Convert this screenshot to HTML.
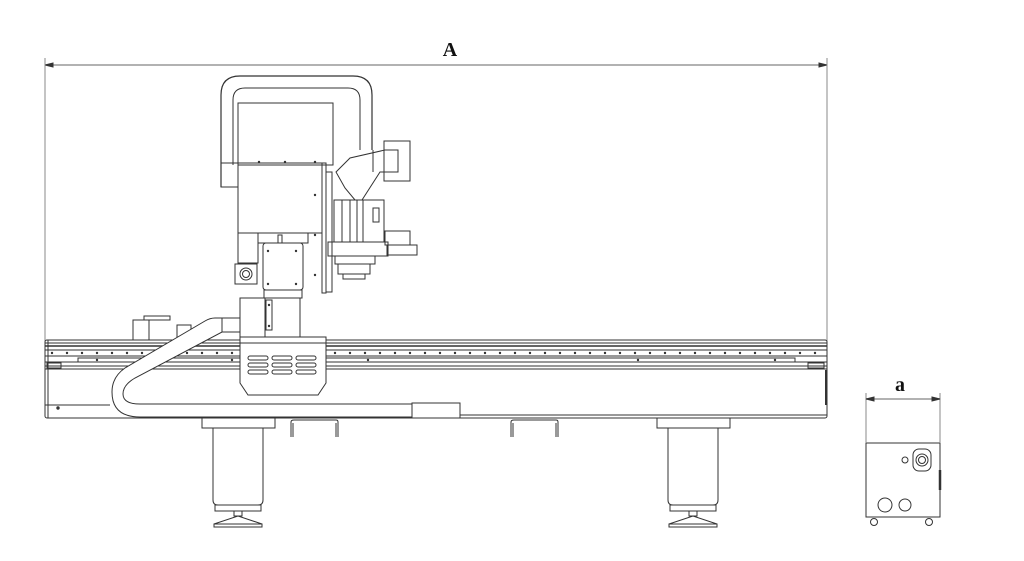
<!DOCTYPE html>
<html><head><meta charset="utf-8"><style>
html,body{margin:0;padding:0;background:#fff;}
svg{display:block;}
text{font-family:"Liberation Serif",serif;font-weight:bold;}
</style></head><body>
<svg width="1024" height="561" viewBox="0 0 1024 561" xmlns="http://www.w3.org/2000/svg">
<g fill="none" stroke="#333" stroke-width="1">
<line x1="45" y1="65" x2="827" y2="65" stroke="#999" stroke-width="1.5"/>
<path d="M45 65 l8 -2 v4 z M827 65 l-8 -2 v4 z" fill="#333"/>
<line x1="45" y1="58" x2="45" y2="345" stroke="#888"/>
<line x1="827" y1="58" x2="827" y2="345" stroke="#888"/>

<rect x="45" y="340" width="782" height="78" rx="2"/>
<line x1="45" y1="343" x2="827" y2="343"/>
<line x1="45" y1="346" x2="827" y2="346" stroke-width="1.5"/>
<line x1="45" y1="350" x2="827" y2="350"/>
<line x1="45" y1="356" x2="827" y2="356"/>
<line x1="45" y1="362" x2="827" y2="362"/>
<line x1="45" y1="366" x2="827" y2="366"/>
<line x1="45" y1="369" x2="827" y2="369"/>
<rect x="78" y="358" width="717" height="4"/>
<line x1="45" y1="405" x2="110" y2="405"/>
<line x1="460" y1="415" x2="827" y2="415"/>
<line x1="48" y1="340" x2="48" y2="418"/>
<rect x="47" y="363" width="14" height="5"/>
<rect x="808" y="363" width="16" height="5"/>
<line x1="826" y1="370" x2="826" y2="405" stroke-width="2"/>
<circle cx="58" cy="408" r="1.2" fill="#333"/>
<g fill="#333" stroke="none">
<circle cx="52" cy="353" r="1.2"/><circle cx="67" cy="353" r="1.2"/><circle cx="82" cy="353" r="1.2"/><circle cx="97" cy="353" r="1.2"/><circle cx="112" cy="353" r="1.2"/><circle cx="127" cy="353" r="1.2"/><circle cx="142" cy="353" r="1.2"/><circle cx="157" cy="353" r="1.2"/><circle cx="172" cy="353" r="1.2"/><circle cx="187" cy="353" r="1.2"/><circle cx="202" cy="353" r="1.2"/><circle cx="217" cy="353" r="1.2"/><circle cx="232" cy="353" r="1.2"/>
<circle cx="335" cy="353" r="1.2"/><circle cx="350" cy="353" r="1.2"/><circle cx="365" cy="353" r="1.2"/><circle cx="380" cy="353" r="1.2"/><circle cx="395" cy="353" r="1.2"/><circle cx="410" cy="353" r="1.2"/><circle cx="425" cy="353" r="1.2"/><circle cx="440" cy="353" r="1.2"/><circle cx="455" cy="353" r="1.2"/><circle cx="470" cy="353" r="1.2"/><circle cx="485" cy="353" r="1.2"/><circle cx="500" cy="353" r="1.2"/><circle cx="515" cy="353" r="1.2"/><circle cx="530" cy="353" r="1.2"/><circle cx="545" cy="353" r="1.2"/><circle cx="560" cy="353" r="1.2"/><circle cx="575" cy="353" r="1.2"/><circle cx="590" cy="353" r="1.2"/><circle cx="605" cy="353" r="1.2"/><circle cx="620" cy="353" r="1.2"/><circle cx="635" cy="353" r="1.2"/><circle cx="650" cy="353" r="1.2"/><circle cx="665" cy="353" r="1.2"/><circle cx="680" cy="353" r="1.2"/><circle cx="695" cy="353" r="1.2"/><circle cx="710" cy="353" r="1.2"/><circle cx="725" cy="353" r="1.2"/><circle cx="740" cy="353" r="1.2"/><circle cx="755" cy="353" r="1.2"/><circle cx="770" cy="353" r="1.2"/><circle cx="785" cy="353" r="1.2"/><circle cx="800" cy="353" r="1.2"/><circle cx="815" cy="353" r="1.2"/>
<circle cx="97" cy="360" r="1.2"/><circle cx="232" cy="360" r="1.2"/><circle cx="368" cy="360" r="1.2"/><circle cx="638" cy="360" r="1.2"/><circle cx="775" cy="360" r="1.2"/>
</g>

<rect x="133" y="320" width="16" height="20"/>
<rect x="144" y="316" width="26" height="4"/>
<rect x="177" y="325" width="14" height="15"/>

<!-- cable chain as closed tube -->
<path d="M240 318 L215 318 Q210 318 205 321 L125 368 Q112 377 112 392 Q112 417 140 417 L412 417 L412 404 L140 404 Q123 404 123 394 Q123 385 135 378 L222 332 L240 332 Z" fill="#fff"/>
<line x1="222" y1="318" x2="222" y2="332"/>
<rect x="412" y="403" width="48" height="15" fill="#fff"/>

<g>
<rect x="202" y="418" width="73" height="10"/>
<path d="M213 428 V500 Q213 505 218 505 H258 Q263 505 263 500 V428"/>
<rect x="215" y="505" width="46" height="6"/>
<rect x="234" y="511" width="8" height="5"/>
<path d="M214 524 L238 516 L262 524 Z"/>
<rect x="214" y="524" width="48" height="3"/>
</g>
<g>
<rect x="657" y="418" width="73" height="10"/>
<path d="M668 428 V500 Q668 505 673 505 H713 Q718 505 718 500 V428"/>
<rect x="670" y="505" width="46" height="6"/>
<rect x="689" y="511" width="8" height="5"/>
<path d="M669 524 L693 516 L717 524 Z"/>
<rect x="669" y="524" width="48" height="3"/>
</g>
<path d="M291 437 V422 Q291 420 294 420 H336 Q338 420 338 422 V437"/>
<path d="M293 437 V423 M336 423 V437"/>
<path d="M511 437 V422 Q511 420 514 420 H556 Q558 420 558 422 V437"/>
<path d="M513 437 V423 M556 423 V437"/>

<path d="M221 187 V95 Q221 76 240 76 H353 Q372 76 372 95 V150" stroke-width="1.2"/>
<path d="M233 165 V100 Q233 88 245 88 H348 Q360 88 360 100 V150"/>
<rect x="238" y="103" width="95" height="62"/>
<rect x="221" y="163" width="17" height="24"/>
<rect x="238" y="163" width="84" height="70"/>
<rect x="322" y="163" width="4" height="130"/>
<rect x="326" y="172" width="6" height="120"/>
<rect x="238" y="233" width="20" height="30"/>
<rect x="258" y="233" width="50" height="10"/>
<path d="M336 172 L350 158 L385 150 H398 V172 H380 L362 200 L355 200 L345 188 Z" fill="#fff"/>
<path d="M373 150 V172"/>
<rect x="384" y="141" width="26" height="40"/>
<rect x="334" y="200" width="50" height="42"/>
<line x1="342" y1="200" x2="342" y2="242"/>
<line x1="350" y1="200" x2="350" y2="242"/>
<line x1="357" y1="200" x2="357" y2="242"/>
<line x1="363" y1="200" x2="363" y2="242"/>
<rect x="373" y="208" width="6" height="14"/>
<rect x="385" y="231" width="25" height="14"/>
<rect x="387" y="245" width="30" height="10"/>
<rect x="328" y="242" width="60" height="14"/>
<rect x="335" y="256" width="40" height="8"/>
<rect x="338" y="264" width="32" height="10"/>
<rect x="343" y="274" width="22" height="5"/>
<rect x="263" y="243" width="40" height="47" rx="3"/>
<rect x="278" y="235" width="4" height="8"/>
<rect x="235" y="264" width="22" height="20"/>
<circle cx="246" cy="274" r="6"/>
<circle cx="246" cy="274" r="3.5"/>
<rect x="240" y="298" width="60" height="40" fill="#fff"/>
<line x1="265" y1="298" x2="265" y2="338"/>
<rect x="266" y="300" width="6" height="30"/>
<rect x="264" y="290" width="38" height="8"/>
<path d="M240 337 H326 V383 L318 395 H248 L240 383 Z" fill="#fff"/>
<line x1="240" y1="343" x2="326" y2="343"/>
<g>
<rect x="248" y="356" width="20" height="4" rx="2"/><rect x="272" y="356" width="20" height="4" rx="2"/><rect x="296" y="356" width="20" height="4" rx="2"/>
<rect x="248" y="363" width="20" height="4" rx="2"/><rect x="272" y="363" width="20" height="4" rx="2"/><rect x="296" y="363" width="20" height="4" rx="2"/>
<rect x="248" y="370" width="20" height="4" rx="2"/><rect x="272" y="370" width="20" height="4" rx="2"/><rect x="296" y="370" width="20" height="4" rx="2"/>
</g>
<g fill="#333" stroke="none">
<circle cx="268" cy="251" r="1.2"/><circle cx="296" cy="251" r="1.2"/><circle cx="268" cy="284" r="1.2"/><circle cx="296" cy="284" r="1.2"/>
<circle cx="315" cy="195" r="1.2"/><circle cx="315" cy="235" r="1.2"/><circle cx="315" cy="275" r="1.2"/>
<circle cx="259" cy="162" r="1.2"/><circle cx="285" cy="162" r="1.2"/><circle cx="315" cy="162" r="1.2"/>
<circle cx="269" cy="305" r="1.2"/><circle cx="269" cy="326" r="1.2"/>
</g>

<rect x="866" y="443" width="74" height="74"/>
<line x1="940" y1="470" x2="940" y2="490" stroke-width="2.5"/>
<circle cx="905" cy="460" r="3"/>
<rect x="913" y="449" width="18" height="22" rx="6"/>
<circle cx="922" cy="460" r="6"/>
<circle cx="922" cy="460" r="3.5"/>
<circle cx="885" cy="505" r="7"/>
<circle cx="905" cy="505" r="6"/>
<circle cx="874" cy="522" r="3.5"/><circle cx="929" cy="522" r="3.5"/>
<line x1="866" y1="393" x2="866" y2="443" stroke="#888"/>
<line x1="940" y1="393" x2="940" y2="443" stroke="#888"/>
<line x1="866" y1="399" x2="940" y2="399" stroke="#999" stroke-width="1.5"/>
<path d="M866 399 l8 -2 v4 z M940 399 l-8 -2 v4 z" fill="#333"/>
</g>
<text x="450" y="56" font-size="20" text-anchor="middle" fill="#111">A</text>
<text x="900" y="391" font-size="20" text-anchor="middle" fill="#111">a</text>
</svg>
</body></html>
